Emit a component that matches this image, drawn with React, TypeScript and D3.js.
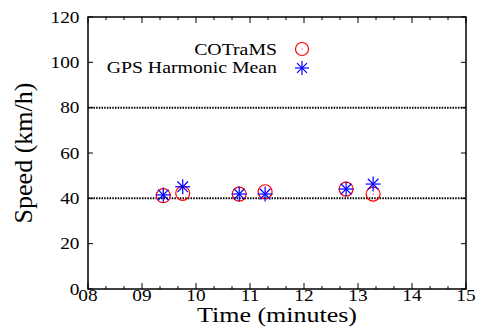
import React from "react";
import * as d3 from "d3";

const times = [9.394, 9.754, 10.8, 11.28, 12.78, 13.28];
const cotrams = [41.2, 42.2, 41.9, 42.9, 44.1, 41.9];
const gpsHarmonic = [41.5, 45.1, 41.9, 41.9, 44.1, 46.3];
const xTickValues = [8, 9, 10, 11, 12, 13, 14, 15];
const xTickLabels = ["08", "09", "10", "11", "12", "13", "14", "15"];
const yTickValues = [0, 20, 40, 60, 80, 100, 120];
const refLines = [40, 80];
const legendLabels = ["COTraMS", "GPS Harmonic Mean"];

const W = 479, H = 335;
const L = 88, R = 466, T = 17, B = 289;
const font = "'Liberation Serif', 'DejaVu Serif', serif";
const SY = 0.82;

function SText({ x, y, size, anchor, children }: { x: number; y: number; size: number; anchor: string; children: React.ReactNode }) {
  return (
    <text
      transform={`translate(${x},${y}) scale(1,${SY})`}
      textAnchor={anchor}
      fontFamily={font}
      fontSize={size}
      fill="black"
    >
      {children}
    </text>
  );
}

function Star({ cx, cy, r, color }: { cx: number; cy: number; r: number; color: string }) {
  const a = r * Math.cos(Math.PI / 4);
  return (
    <g stroke={color} strokeWidth={1.2}>
      <line x1={cx - r} y1={cy} x2={cx + r} y2={cy} />
      <line x1={cx} y1={cy - r} x2={cx} y2={cy + r} />
      <line x1={cx - a} y1={cy - a} x2={cx + a} y2={cy + a} />
      <line x1={cx - a} y1={cy + a} x2={cx + a} y2={cy - a} />
    </g>
  );
}

function Circ({ cx, cy, r, color }: { cx: number; cy: number; r: number; color: string }) {
  return (
    <g>
      <circle cx={cx} cy={cy} r={r} fill="none" stroke={color} strokeWidth={1.2} />
      <circle cx={cx} cy={cy} r={0.6} fill={color} />
    </g>
  );
}

export default function App() {
  const x = d3.scaleLinear().domain([8, 15]).range([L, R]);
  const y = d3.scaleLinear().domain([0, 120]).range([B, T]);
  const minorX = d3.range(8, 15.001, 1 / 3);

  return (
    <svg width={W} height={H} style={{ position: "absolute", left: 0, top: 0 }}>
      <rect width={W} height={H} fill="white" />
      {refLines.map((v) => (
        <line key={v} x1={L} x2={R} y1={y(v)} y2={y(v)} stroke="black" strokeWidth={2} strokeDasharray="1.5,1.2" />
      ))}
      {minorX.map((v, i) => {
        const major = Math.abs(v - Math.round(v)) < 1e-6;
        const len = major ? 6 : 3;
        return (
          <g key={i} stroke="black" strokeWidth={1}>
            <line x1={x(v)} x2={x(v)} y1={B} y2={B - len} />
            <line x1={x(v)} x2={x(v)} y1={T} y2={T + len} />
          </g>
        );
      })}
      {yTickValues.map((v) => (
        <g key={v} stroke="black" strokeWidth={1}>
          <line x1={L} x2={L + 5} y1={y(v)} y2={y(v)} />
          <line x1={R} x2={R - 5} y1={y(v)} y2={y(v)} />
        </g>
      ))}
      <rect x={L} y={T} width={R - L} height={B - T} fill="none" stroke="black" strokeWidth={1.5} />
      {yTickValues.map((v) => (
        <SText key={v} x={79.5} y={y(v) + 5.7} size={19.3} anchor="end">
          {v}
        </SText>
      ))}
      {xTickValues.map((v, i) => (
        <SText key={v} x={x(v)} y={300.7} size={19.3} anchor="middle">
          {xTickLabels[i]}
        </SText>
      ))}
      <SText x={(L + R) / 2} y={321.7} size={26} anchor="middle">
        Time (minutes)
      </SText>
      <text transform={`translate(31.5, ${(T + B) / 2}) rotate(-90)`} textAnchor="middle" fontFamily={font} fontSize={26} fill="black">
        Speed (km/h)
      </text>
      {times.map((t, i) => (
        <Circ key={"c" + i} cx={x(t)} cy={y(cotrams[i])} r={7} color="#ff0000" />
      ))}
      {times.map((t, i) => (
        <Star key={"s" + i} cx={x(t)} cy={y(gpsHarmonic[i])} r={7.5} color="#0000ff" />
      ))}
      <SText x={277} y={55} size={19.8} anchor="end">
        {legendLabels[0]}
      </SText>
      <SText x={277} y={72.7} size={19.8} anchor="end">
        {legendLabels[1]}
      </SText>
      <Circ cx={302} cy={49} r={6.5} color="#ff0000" />
      <Star cx={302} cy={68} r={7} color="#0000ff" />
    </svg>
  );
}
